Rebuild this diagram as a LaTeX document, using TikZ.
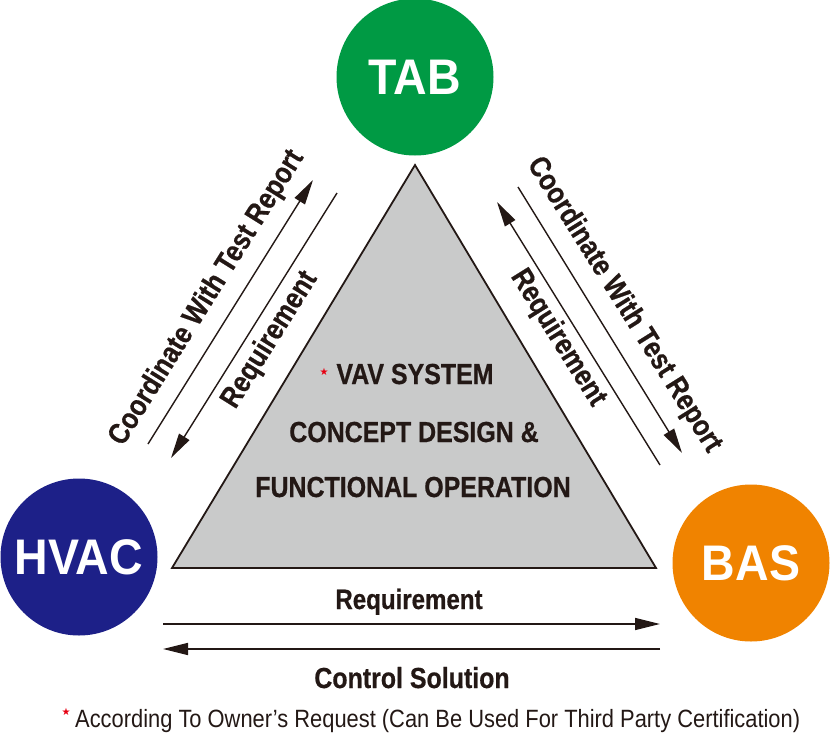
\documentclass[tikz,border=0pt]{standalone}
\usepackage{fontspec}
\setmainfont{Liberation Sans}
\newfontfamily\condf{Liberation Sans}[FakeStretch=0.86, FakeBold=0.6]
\newfontfamily\circf{Liberation Sans}[FakeStretch=0.93]
\newfontfamily\notef{Liberation Sans}[FakeStretch=0.875]
\newfontfamily\symf{DejaVu Sans}
\usetikzlibrary{arrows.meta}
\definecolor{ink}{HTML}{231815}
\definecolor{tabgreen}{RGB}{0,154,68}
\definecolor{hvacblue}{RGB}{29,32,136}
\definecolor{basorange}{RGB}{240,131,0}
\definecolor{trigray}{RGB}{201,202,202}
\definecolor{starred}{RGB}{230,0,18}
\tikzset{
  party/.style={circle, inner sep=0pt, minimum size=157pt, text=white,
    font=\circf\bfseries\fontsize{50}{50}\selectfont},
  arr/.style={draw=ink, line width=1.4pt, -{Triangle[length=25pt,width=12pt]}},
  lbl/.style={text=ink, inner sep=0pt, font=\condf\bfseries\fontsize{29.5}{29.5}\selectfont},
  midtxt/.style={text=ink, inner sep=0pt, anchor=base, font=\condf\bfseries\fontsize{29}{29}\selectfont},
  redstar/.style={text=starred, inner sep=0pt, font=\symf\fontsize{10}{10}\selectfont},
}
\begin{document}
\begin{tikzpicture}[x=1pt,y=-1pt]
\useasboundingbox (0,0) rectangle (830,734);
% central triangle
\draw[draw=ink, line width=1.8pt, fill=trigray, line join=miter]
  (415,165) coordinate (apex) -- (656,568) coordinate (br) -- (172,568) coordinate (bl) -- cycle;
\node[midtxt] (t1) at (415,384) {VAV SYSTEM};
\node[redstar] (s1) at (324,372) {★};
\node[midtxt] (t2) at (414,442) {CONCEPT DESIGN \&};
\node[midtxt] (t3) at (413,497) {FUNCTIONAL OPERATION};
% circles
\node[party, fill=tabgreen] (tab) at (415,77) {TAB};
\node[party, fill=hvacblue] (hvac) at (79,557) {HVAC};
\node[party, fill=basorange] (bas) at (751,563) {BAS};
% arrow end points
\coordinate (lo1) at (148,444); \coordinate (lo2) at (313,180);
\coordinate (li1) at (337,193); \coordinate (li2) at (171,458);
\coordinate (ro1) at (518,187); \coordinate (ro2) at (682,453);
\coordinate (ri1) at (660,465); \coordinate (ri2) at (497,202);
\coordinate (b1) at (163,624); \coordinate (b2) at (660,624);
\coordinate (c1) at (660,649); \coordinate (c2) at (163,649);
\draw[arr] (lo1) -- (lo2);
\draw[arr] (li1) -- (li2);
\draw[arr] (ro1) -- (ro2);
\draw[arr] (ri1) -- (ri2);
\draw[arr] (b1) -- (b2);
\draw[arr] (c1) -- (c2);
% labels
\node[lbl, rotate=58] (lol) at (207,298) {Coordinate With Test Report};
\node[lbl, rotate=58] (lil) at (270,340) {Requirement};
\node[lbl, rotate=-58] (rol) at (624,305) {Coordinate With Test Report};
\node[lbl, rotate=-58] (ril) at (558,338) {Requirement};
\node[midtxt, font=\condf\bfseries\fontsize{28}{28}\selectfont] (bl1) at (409,609) {Requirement};
\node[midtxt] (bl2) at (412,688) {Control Solution};
% footnote
\node[redstar] (s2) at (66,712) {★};
\node[text=ink, inner sep=0pt, anchor=base west, font=\notef\fontsize{25}{25}\selectfont] (note) at (75,727) {According To Owner’s Request (Can Be Used For Third Party Certification)};
\end{tikzpicture}
\end{document}
